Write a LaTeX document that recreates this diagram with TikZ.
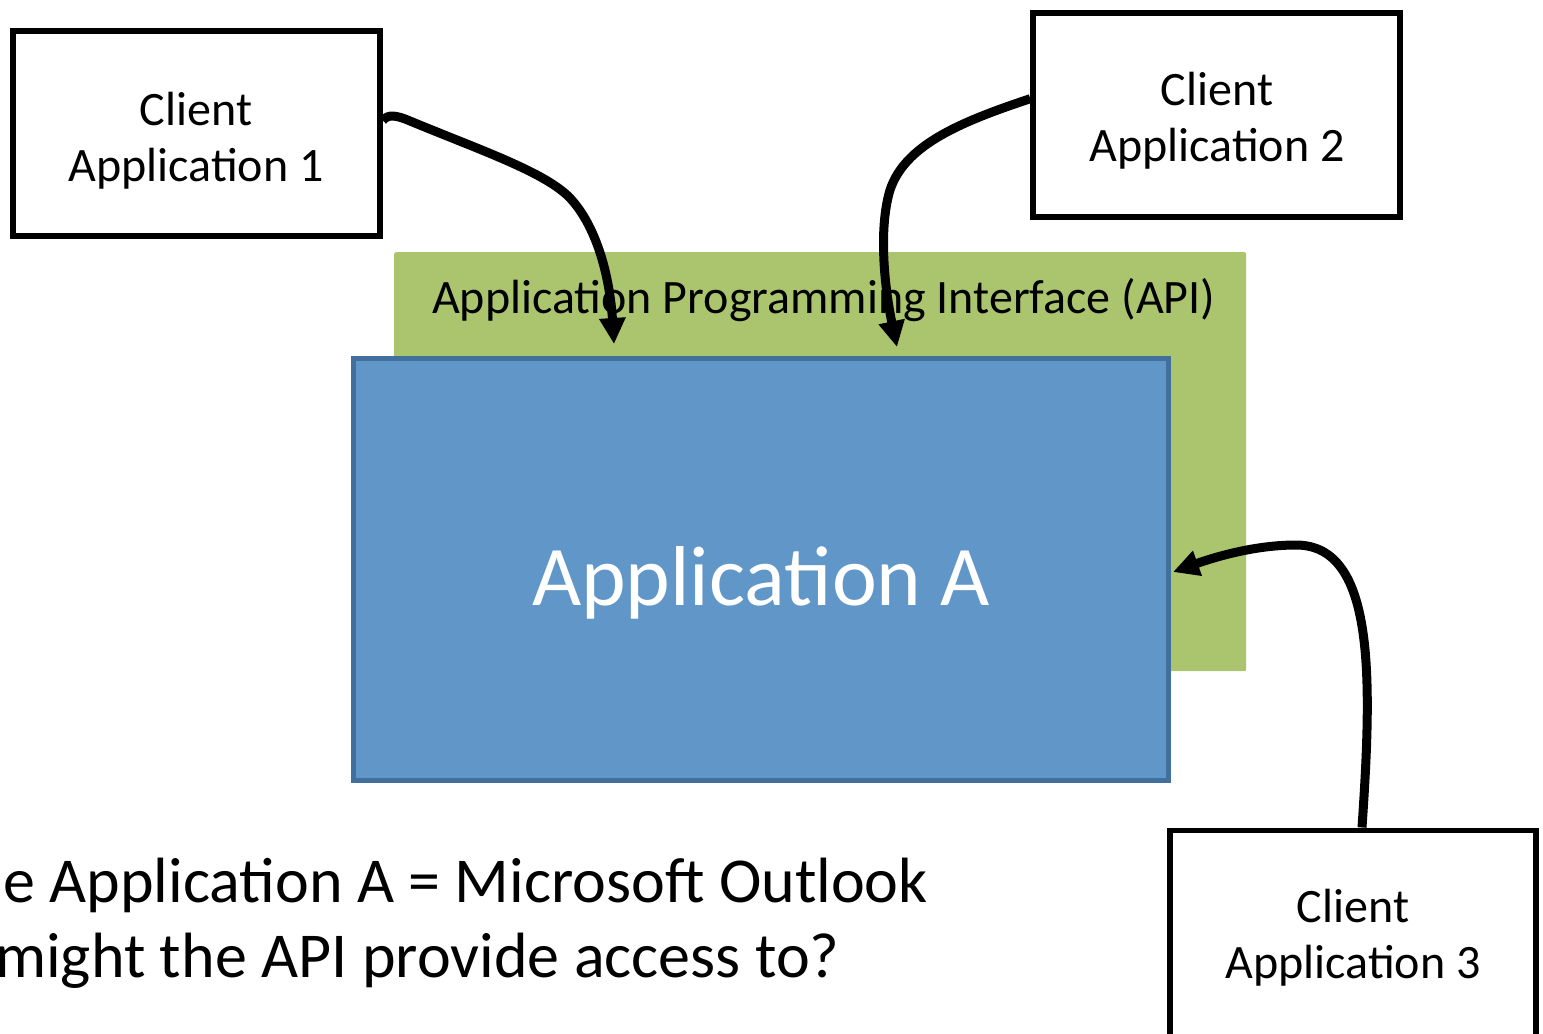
\documentclass[tikz,border=0pt]{standalone}
\usepackage{fontspec}
\setmainfont{Carlito}
\usetikzlibrary{arrows.meta}
\definecolor{apigreen}{HTML}{ABC56E}
\definecolor{appblue}{HTML}{6096C8}
\definecolor{appedge}{HTML}{41709C}
\tikzset{
  clientbox/.style={draw=black, line width=5.5pt, fill=white, minimum width=367pt, minimum height=205pt, inner sep=0pt},
  clienttext/.style={anchor=base, inner sep=0pt, font=\fontsize{48}{56}\selectfont},
  conn/.style={line width=9pt, -{Triangle[length=26pt,width=25pt]}},
  bigtext/.style={anchor=base west, inner sep=0pt, font=\fontsize{64}{74}\selectfont}
}
\begin{document}
\begin{tikzpicture}[x=1pt,y=-1pt]
\useasboundingbox (0,0) rectangle (1543,1034);
\clip (0,0) rectangle (1543,1034);
% API layer
\node[fill=apigreen, rounded corners=2pt, minimum width=852pt, minimum height=419pt, inner sep=0pt, anchor=north west] (api) at (394,252) {};
\node[anchor=base west, inner sep=0pt, font=\fontsize{48}{56}\selectfont] (apit) at (432,313) {Application Programming Interface (API)};
% Application A
\node[draw=appedge, fill=appblue, line width=5pt, minimum width=815pt, minimum height=421.5pt, inner sep=0pt, anchor=north west] (appA) at (351,356) {};
\node[anchor=base, inner sep=0pt, text=white, font=\fontsize{85}{100}\selectfont] (appAt) at (761,605) {Application A};
% Clients
\node[clientbox] (c1) at (196.5,133.5) {};
\node[clienttext] (c1a) at (196,125) {Client};
\node[clienttext] (c1b) at (196,181) {Application 1};
\node[clientbox, minimum height=204pt] (c2) at (1216.5,115) {};
\node[clienttext] (c2a) at (1217,105) {Client};
\node[clienttext] (c2b) at (1217,161) {Application 2};
\node[clientbox, minimum width=366pt, minimum height=230pt, anchor=north] (c3) at (1353,827.5) {};
\node[clienttext] (c3a) at (1353,922) {Client};
\node[clienttext] (c3b) at (1353,978) {Application 3};
% arrow end points
\coordinate (e1) at (614,344);
\coordinate (e2) at (897,347);
\coordinate (e3) at (1173,572);
% connectors
\draw[conn] (c1.4.2) .. controls (388,114) and (396,115) .. (410,121)
  .. controls (480,150) and (545,172) .. (570,198)
  .. controls (598,228) and (610,280) .. (e1);
\draw[conn] (c2.175.6) .. controls (960,122) and (905,145) .. (890,190)
  .. controls (878,230) and (885,290) .. (e2);
\draw[conn] ([xshift=9pt]c3.north) .. controls (1372,680) and (1376,545) .. (1296,545)
  .. controls (1255,545) and (1215,557) .. (e3);
% question text
\node[bigtext] (q1) at (3,902) {e Application A = Microsoft Outlook};
\node[bigtext] (q2) at (-5,977) {might the API provide access to?};
\end{tikzpicture}
\end{document}
